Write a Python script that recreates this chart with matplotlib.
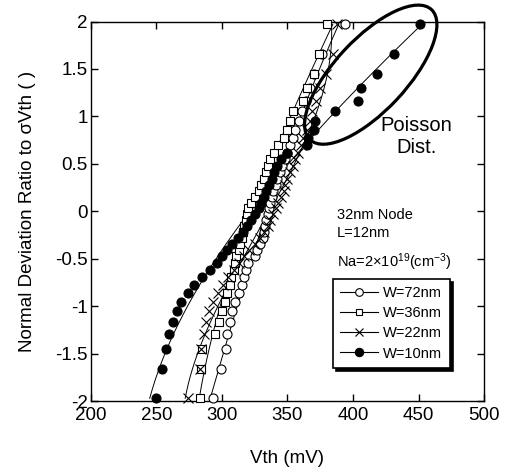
import numpy as np
import matplotlib.pyplot as plt
from matplotlib.lines import Line2D
from matplotlib.patches import Ellipse
from matplotlib.transforms import ScaledTranslation

plt.rcParams['font.family'] = ['Liberation Sans', 'DejaVu Sans']
plt.rcParams['mathtext.fontset'] = 'custom'
plt.rcParams['mathtext.rm'] = 'Liberation Sans'
plt.rcParams['mathtext.it'] = 'Liberation Sans:italic'
plt.rcParams['mathtext.bf'] = 'Liberation Sans:bold'
plt.rcParams['mathtext.default'] = 'regular'
plt.rcParams['axes.unicode_minus'] = False

# normal deviation (quantile) positions, 40 samples per width
q = [-1.971, -1.657, -1.452, -1.296, -1.165, -1.052, -0.951, -0.859, -0.774, -0.694,
     -0.618, -0.546, -0.476, -0.409, -0.343, -0.279, -0.216, -0.153, -0.092, -0.031,
     0.031, 0.092, 0.153, 0.216, 0.279, 0.343, 0.409, 0.476, 0.546, 0.618,
     0.694, 0.774, 0.859, 0.951, 1.052, 1.165, 1.296, 1.452, 1.657, 1.971]

# Vth (mV) sorted
vth_72 = [293, 299, 303, 304, 306, 308, 310, 313, 315, 317,
          318, 320, 325, 327, 329, 331, 332, 333, 334, 335,
          336, 337, 338, 339, 341, 342, 344, 346, 348, 350,
          352, 354, 356, 359, 361, 364, 367, 370, 376, 394]
vth_36 = [283, 284, 285, 295, 298, 300, 302, 304, 306, 307,
          309, 310, 311, 313, 314, 315, 316, 317, 318, 319,
          320, 322, 325, 328, 330, 332, 334, 335, 337, 340,
          343, 347, 350, 352, 354, 362, 365, 370, 374, 380]
vth_22 = [274, 283, 284, 286, 288, 290, 293, 297, 301, 305,
          309, 313, 317, 321, 325, 329, 332, 335, 337, 339,
          341, 343, 345, 347, 348, 350, 352, 354, 356, 358,
          360, 362, 365, 367, 369, 372, 375, 379, 385, 388]
vth_10 = [250, 254, 257, 260, 263, 266, 269, 274, 279, 285,
          291, 296, 300, 304, 308, 312, 316, 319, 322, 325,
          328, 330, 332, 334, 336, 338, 340, 342, 345, 350,
          365, 366, 370, 371, 386, 404, 406, 418, 431, 451]

labels = ['W=72nm', 'W=36nm', 'W=22nm', 'W=10nm']

fig = plt.figure(figsize=(5.07, 4.68), dpi=100)
ax = fig.add_axes([0.179, 0.143, 0.776, 0.811])

styles = [
    (vth_72, dict(marker='o', mfc='white', mec='black', ms=6.5, mew=0.8)),
    (vth_36, dict(marker='s', mfc='white', mec='black', ms=6, mew=0.8)),
    (vth_22, dict(marker='x', color='black', ms=6.5, mew=0.8)),
    (vth_10, dict(marker='o', mfc='black', mec='black', ms=6.5, mew=0.8)),
]

for vals, st in styles:
    ax.plot(vals, q, linestyle='none', clip_on=False, zorder=3, **st)
    coef = np.polyfit(q, vals, 3)
    yy = np.linspace(q[0], q[-1], 200)
    ax.plot(np.polyval(coef, yy), yy, color='black', lw=0.7, zorder=2)

ax.set_xlim(200, 500)
ax.set_ylim(-2, 2)
ax.set_xticks(np.arange(200, 501, 50))
ax.set_yticks(np.arange(-2, 2.01, 0.5))
ax.yaxis.set_major_formatter(plt.FuncFormatter(lambda v, p: '%g' % v))
ax.tick_params(direction='in', length=5, width=1, top=True, right=True, labelsize=13.5)
ax.tick_params(axis='y', pad=2)
ax.tick_params(axis='x', pad=4)
for s in ax.spines.values():
    s.set_linewidth(1)

ax.set_xlabel('Vth (mV)', fontsize=13.5, labelpad=19)
ax.set_ylabel('Normal Deviation Ratio to σVth ( )', fontsize=13.5, labelpad=14)

# Poisson ellipse drawn in inches around a data-space centre
tr = fig.dpi_scale_trans + ScaledTranslation(413.5, 1.44, ax.transData)
ell = Ellipse((0, 0), width=1.78, height=0.72, angle=47, transform=tr,
              fill=False, lw=2.3, ec='black', clip_on=False, zorder=5)
ax.add_artist(ell)

ax.text(448.5, 0.784, 'Poisson\nDist.', ha='center', va='center', fontsize=14.5, linespacing=1.2)
ax.text(387.4, -0.081, '32nm Node', fontsize=10.5, va='baseline')
ax.text(387.4, -0.274, 'L=12nm', fontsize=10.5, va='baseline')
ax.text(387.4, -0.588, r'Na=2×10$^{19}$(cm$^{-3}$)', fontsize=10.5, va='baseline')

handles = [
    Line2D([], [], color='black', lw=0.8, marker='o', mfc='white', mec='black', ms=5.5, mew=0.8),
    Line2D([], [], color='black', lw=0.8, marker='s', mfc='white', mec='black', ms=5, mew=0.8),
    Line2D([], [], color='black', lw=0.8, marker='x', ms=5.5, mew=0.8),
    Line2D([], [], color='black', lw=0.8, marker='o', mfc='black', mec='black', ms=6, mew=0.8),
]
leg = ax.legend(handles, labels, loc='upper left', bbox_to_anchor=(0.616, 0.322),
                borderaxespad=0, frameon=True, fancybox=False, edgecolor='black',
                framealpha=1, fontsize=10.5, handlelength=2.6, handletextpad=0.35,
                labelspacing=0.42, borderpad=0.5,
                shadow={'facecolor': 'black', 'edgecolor': 'black', 'alpha': 1})
leg.get_frame().set_linewidth(1.2)

fig.savefig('out.png', dpi=100)
